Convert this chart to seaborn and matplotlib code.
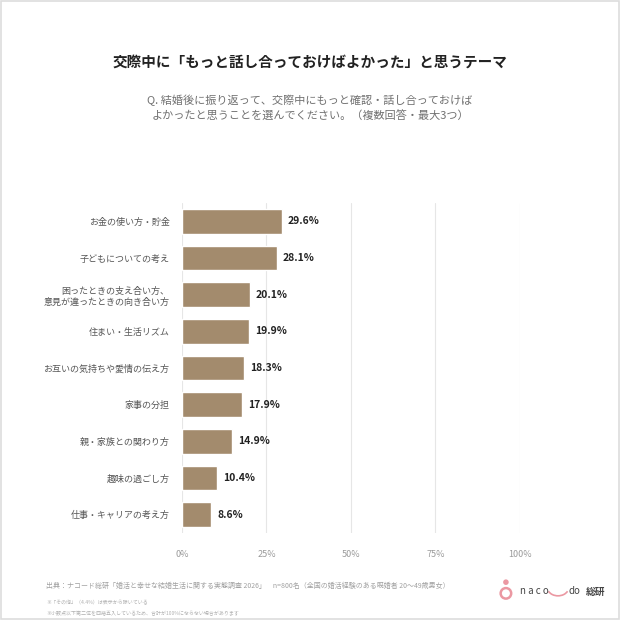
import numpy as np
import pandas as pd
import matplotlib
matplotlib.use("Agg")
import matplotlib.pyplot as plt
from matplotlib.patches import Rectangle, Circle, Arc
import seaborn as sns

# data
themes = [
    "お金の使い方・貯金",
    "子どもについての考え",
    "困ったときの支え合い方、\n意見が違ったときの向き合い方",
    "住まい・生活リズム",
    "お互いの気持ちや愛情の伝え方",
    "家事の分担",
    "親・家族との関わり方",
    "趣味の過ごし方",
    "仕事・キャリアの考え方",
]
shares = [29.6, 28.1, 20.1, 19.9, 18.3, 17.9, 14.9, 10.4, 8.6]
x_ticks = [0, 25, 50, 75, 100]
x_tick_labels = ["0%", "25%", "50%", "75%", "100%"]

title = "交際中に「もっと話し合っておけばよかった」と思うテーマ"
question = ("Q. 結婚後に振り返って、交際中にもっと確認・話し合っておけば\n"
            "よかったと思うことを選んでください。（複数回答・最大3つ）")
source = ("出典：ナコード総研「婚活と幸せな結婚生活に関する実態調査 2026」　"
          "n=800名（全国の婚活経験のある既婚者 20〜49歳男女）")
note1 = "※「その他」（4.4%）は表示から除いている"
note2 = "※小数点以下第二位を四捨五入しているため、合計が100%にならない場合があります"

BAR = "#a38b6d"
PINK = "#eb98a2"

sns.set_theme(style="white")
plt.rcParams['font.family'] = ['Noto Sans CJK JP', 'DejaVu Sans']

df = pd.DataFrame({"theme": themes, "share": shares})

fig = plt.figure(figsize=(6.2, 6.2), dpi=100)
fig.patch.set_facecolor("white")
ax = fig.add_axes([0.2935, 0.1403, 0.545, 0.5323])

sns.barplot(data=df, x="share", y="theme", color=BAR, saturation=1,
            width=0.68, ax=ax, zorder=3)

ax.set_xlim(0, 100)
ax.set_ylim(len(themes) - 0.5, -0.5)
ax.set_xticks(x_ticks)
ax.set_xticklabels(x_tick_labels, fontsize=6.5, color="#9a9a9a")
ax.tick_params(axis="x", length=0, pad=12)
ax.tick_params(axis="y", length=0, pad=9, labelsize=6.5, labelcolor="#555555")
for lab in ax.get_yticklabels():
    lab.set_linespacing(1.35)
ax.set_xlabel("")
ax.set_ylabel("")
for s in ax.spines.values():
    s.set_visible(False)
ax.grid(axis="x", color="#e6e6e6", linewidth=0.8, zorder=0)
ax.grid(axis="y", visible=False)

for i, v in enumerate(shares):
    ax.text(v + 1.8, i, f"{v:.1f}%", va="center", ha="left",
            fontsize=7.5, fontweight="bold", color="#222222")

fig.text(0.5, 0.90, title, ha="center", va="center",
         fontsize=10.5, fontweight="bold", color="#222222")
fig.text(0.5, 0.825, question, ha="center", va="center",
         fontsize=8, color="#707070", linespacing=1.55)

fig.text(0.074, 0.055, source, ha="left", va="center",
         fontsize=5, color="#a0a0a0")
fig.text(0.074, 0.028, note1, ha="left", va="center",
         fontsize=3.6, color="#b0b0b0")
fig.text(0.074, 0.010, note2, ha="left", va="center",
         fontsize=3.6, color="#b0b0b0")

# logo
fig.patches.append(Circle((0.816, 0.043), 0.0085, transform=fig.transFigure,
                          facecolor="none", edgecolor=PINK, linewidth=1.8))
fig.patches.append(Circle((0.816, 0.061), 0.0045, transform=fig.transFigure,
                          facecolor=PINK, edgecolor="none"))
fig.text(0.838, 0.046, "n a c o", ha="left", va="center",
         fontsize=7, color="#444444")
fig.patches.append(Arc((0.900, 0.052), 0.034, 0.026, theta1=200, theta2=340,
                       transform=fig.transFigure, color=PINK, linewidth=1.2))
fig.text(0.917, 0.046, "do", ha="left", va="center",
         fontsize=7, color="#444444")
fig.text(0.945, 0.046, "総研", ha="left", va="center",
         fontsize=7, fontweight="bold", color="#444444")

# thin frame around the picture
fig.patches.append(Rectangle((0.0015, 0.0015), 0.997, 0.997,
                             transform=fig.transFigure, fill=False,
                             edgecolor="#dddddd", linewidth=1.2))

fig.savefig("out.png", dpi=100)
